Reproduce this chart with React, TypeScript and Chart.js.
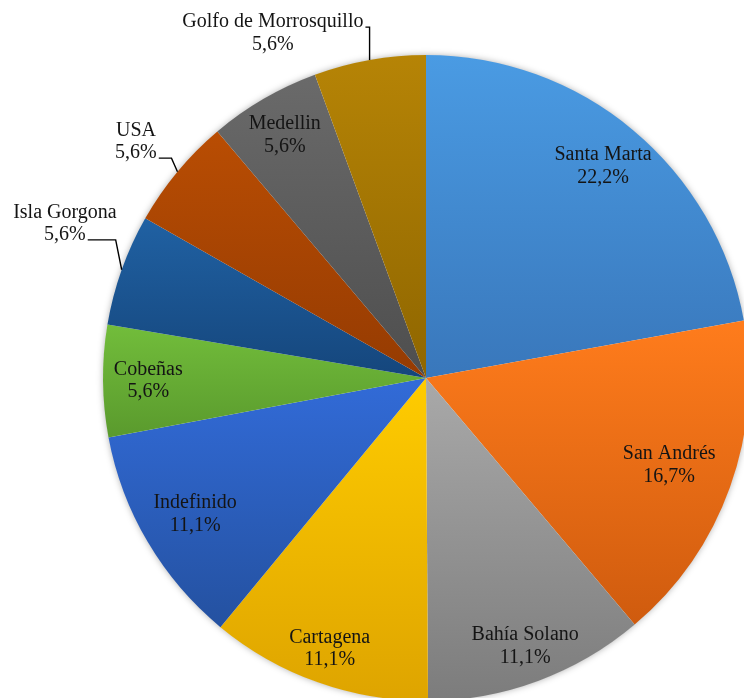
import React, { useEffect, useRef } from "react";
import { Chart, registerables } from "chart.js";

Chart.register(...registerables);

const labels = [
  "Santa Marta",
  "San Andrés",
  "Bahía Solano",
  "Cartagena",
  "Indefinido",
  "Cobeñas",
  "Isla Gorgona",
  "USA",
  "Medellin",
  "Golfo de Morrosquillo",
];
const values = [22.2, 16.7, 11.1, 11.1, 11.1, 5.6, 5.6, 5.6, 5.6, 5.6];
const percentLabels = ["22,2%", "16,7%", "11,1%", "11,1%", "11,1%", "5,6%", "5,6%", "5,6%", "5,6%", "5,6%"];

const topColors = ["#4a9be3", "#ff7c1c", "#a9a9a9", "#ffcc00", "#326bd8", "#72bd3b", "#2061a3", "#b94d03", "#6a6a6a", "#b68406"];
const bottomColors = ["#3977bb", "#cf5b0e", "#7c7c7c", "#dea400", "#2451a0", "#5a9a2d", "#15467c", "#953b02", "#4e4e4e", "#8f6600"];

// style/layout constants for labels
const INSIDE_FRAC = [0.855, 0.8, 0.885, 0.89, 0.83, 0.86, 0, 0, 0.87, 0];
const OUTSIDE: Record<number, { dx: number; dy: number; line: number }> = {
  9: { dx: -0.474, dy: -1.067, line: 0 },
  7: { dx: -0.898, dy: -0.731, line: 1 },
  6: { dx: -1.118, dy: -0.478, line: 1 },
};

const W = 852;
const H = 756;
const FONT = '20px "Liberation Serif", "Times New Roman", serif';
const LINE_H = 22.5;

function sliceGradient(c: any) {
  const chart = c.chart;
  const i = c.dataIndex;
  const area = chart.chartArea;
  if (!area || i === undefined) return topColors[i ?? 0];
  const cx = (area.left + area.right) / 2;
  const cy = (area.top + area.bottom) / 2;
  const r = Math.min(area.right - area.left, area.bottom - area.top) / 2;
  const total = values.reduce((a, b) => a + b, 0);
  let a0 = -Math.PI / 2;
  for (let k = 0; k < i; k++) a0 += (values[k] / total) * Math.PI * 2;
  const a1 = a0 + (values[i] / total) * Math.PI * 2;
  let minY = cy;
  let maxY = cy;
  for (let t = 0; t <= 60; t++) {
    const a = a0 + ((a1 - a0) * t) / 60;
    const y = cy + Math.sin(a) * r;
    if (y < minY) minY = y;
    if (y > maxY) maxY = y;
  }
  const g = chart.ctx.createLinearGradient(0, minY, 0, maxY);
  g.addColorStop(0, topColors[i]);
  g.addColorStop(1, bottomColors[i]);
  return g;
}

const shadowPlugin = {
  id: "pieShadow",
  beforeDatasetsDraw(chart: any) {
    const meta = chart.getDatasetMeta(0);
    const arc = meta.data[0];
    if (!arc) return;
    const { x, y, outerRadius } = arc.getProps(["x", "y", "outerRadius"], true);
    const ctx = chart.ctx;
    ctx.save();
    ctx.shadowColor = "rgba(0,0,0,0.35)";
    ctx.shadowBlur = 7;
    ctx.beginPath();
    ctx.arc(x, y, outerRadius - 0.5, 0, Math.PI * 2);
    ctx.fillStyle = "#ffffff";
    ctx.fill();
    ctx.restore();
  },
};

const labelPlugin = {
  id: "sliceLabels",
  afterDatasetsDraw(chart: any) {
    const ctx = chart.ctx;
    const meta = chart.getDatasetMeta(0);
    ctx.save();
    ctx.font = FONT;
    ctx.fillStyle = "#141414";
    ctx.textAlign = "center";
    ctx.textBaseline = "middle";
    meta.data.forEach((arc: any, i: number) => {
      const { x, y, startAngle, endAngle, outerRadius } = arc.getProps(
        ["x", "y", "startAngle", "endAngle", "outerRadius"],
        true
      );
      const mid = (startAngle + endAngle) / 2;
      const out = OUTSIDE[i];
      let cx: number;
      let cy: number;
      if (out) {
        cx = x + out.dx * outerRadius;
        cy = y + out.dy * outerRadius;
      } else {
        cx = x + Math.cos(mid) * INSIDE_FRAC[i] * outerRadius;
        cy = y + Math.sin(mid) * INSIDE_FRAC[i] * outerRadius;
      }
      const lines = [labels[i], percentLabels[i]];
      lines.forEach((t, k) => {
        ctx.fillText(t, cx, cy + (k - 0.5) * LINE_H);
      });
      if (out) {
        const txt = lines[out.line];
        const w = ctx.measureText(txt).width;
        const ly = cy + (out.line - 0.5) * LINE_H + 5;
        const sx = cx + w / 2 + 2;
        const px = x + Math.cos(mid) * outerRadius;
        const py = y + Math.sin(mid) * outerRadius;
        const ex = sx + 4 > px - 6 ? px : px - 6;
        ctx.beginPath();
        ctx.moveTo(sx, ly);
        ctx.lineTo(ex, ly);
        ctx.lineTo(px, py);
        ctx.strokeStyle = "#000000";
        ctx.lineWidth = 1.4;
        ctx.stroke();
      }
    });
    ctx.restore();
  },
};

export default function App() {
  const ref = useRef<HTMLCanvasElement | null>(null);
  useEffect(() => {
    if (!ref.current) return;
    const chart = new Chart(ref.current, {
      type: "pie",
      data: {
        labels,
        datasets: [
          {
            data: values,
            backgroundColor: sliceGradient as any,
            borderWidth: 0,
          },
        ],
      },
      options: {
        responsive: false,
        animation: false,
        events: [],
        layout: { padding: { top: 55, bottom: 55, left: 103, right: 103 } },
        plugins: {
          legend: { display: false },
          tooltip: { enabled: false },
        },
      },
      plugins: [shadowPlugin, labelPlugin],
    });
    return () => chart.destroy();
  }, []);
  return (
    <div
      style={{
        position: "fixed",
        left: 0,
        top: 0,
        width: 744,
        height: 698,
        overflow: "hidden",
        background: "#ffffff",
      }}
    >
      <canvas ref={ref} width={W} height={H} style={{ display: "block", width: W, height: H }} />
    </div>
  );
}
